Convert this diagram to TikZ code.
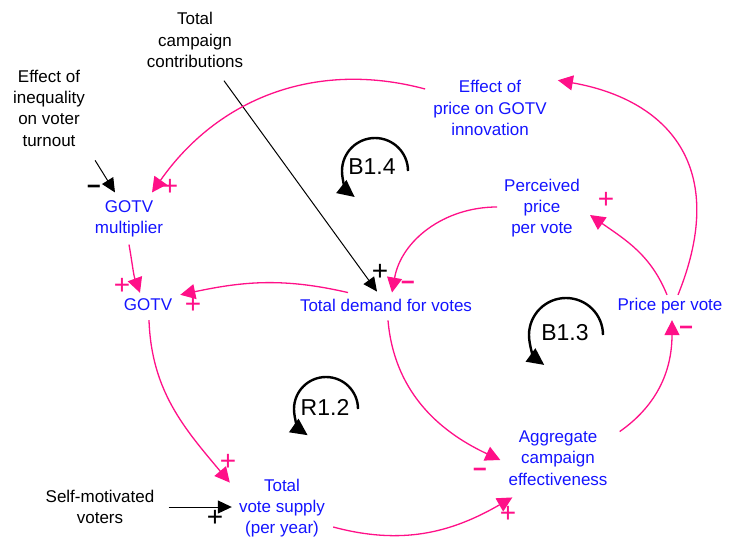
\documentclass[tikz,border=0pt]{standalone}
\usepackage{fontspec}
\setmainfont{Liberation Sans}
\usetikzlibrary{arrows.meta}
\definecolor{varblue}{RGB}{20,20,255}
\definecolor{linkpink}{RGB}{255,16,136}

\begin{document}
\begin{tikzpicture}[x=1pt,y=1pt,
    var/.style={text=varblue, align=center, inner sep=2pt, font=\fontsize{17}{21.3}\selectfont},
    ext/.style={text=black, align=center, inner sep=2pt, font=\fontsize{17}{21.3}\selectfont},
    link/.style={draw=linkpink, line width=1.3pt, -{Triangle[length=15pt,width=15pt]}},
    inlink/.style={draw=black, line width=1pt, -{Triangle[length=14pt,width=13pt]}},
    plus/.style={font=\fontsize{28}{28}\selectfont, inner sep=0pt},
    minus/.style={font=\fontsize{24}{24}\selectfont\bfseries, inner sep=0pt, yshift=-3pt},
    loopsym/.style={draw=black, line width=2.4pt, -{Triangle[length=17pt,width=16pt]}},
    looplbl/.style={font=\fontsize{23}{23}\selectfont, inner sep=0pt}]
    \useasboundingbox (0,0) rectangle (738,-538);

    % outside inputs
    \node[ext] (contrib) at (195,-40) {Total\\campaign\\contributions};
    \node[ext] (ineq) at (49,-108) {Effect of\\inequality\\on voter\\turnout};
    \node[ext] (self) at (100,-507) {Self-motivated\\voters};

    % variables
    \node[var] (effprice) at (490,-108) {Effect of\\price on GOTV\\innovation};
    \node[var] (mult) at (129,-219) {GOTV\\multiplier};
    \node[var] (perceived) at (542,-208) {Perceived\\price\\per vote};
    \node[var] (gotv) at (148,-305) {GOTV};
    \node[var] (demand) at (386,-305) {Total demand for votes};
    \node[var] (ppv) at (670,-306) {Price per vote};
    \node[var] (aggr) at (558,-458) {Aggregate\\campaign\\effectiveness};
    \node[var] (supply) at (282,-508) {Total\\vote supply\\(per year)};

    % loop markers
    \node[looplbl] (b14) at (372,-167) {B1.4};
    \node[looplbl] (b13) at (565,-333) {B1.3};
    \node[looplbl] (r12) at (325,-407) {R1.2};
    \draw[loopsym] ([shift={(36,-4)}]b14.center) arc[start angle=0, end angle=232, radius=33];
    \draw[loopsym] ([shift={(38,-2)}]b13.center) arc[start angle=0, end angle=234, radius=37];
    \draw[loopsym] ([shift={(33,-2)}]r12.center) arc[start angle=0, end angle=235, radius=32];

    % black links from outside
    \draw[inlink] ([shift={(29,-11)}]contrib.south) -- ([shift={(-9,5)}]demand.north);
    \draw[inlink] ([shift={(8,-12)}]ineq.south east) -- ([shift={(-14,6)}]mult.north);
    \draw[inlink] ([xshift=12pt]self.east) -- ([shift={(-5,1)}]supply.west);

    % pink causal links
    \draw[link] ([shift={(-6,19)}]effprice.west) to[out=165, in=55] ([shift={(23,6)}]mult.north);
    \draw[link] ([shift={(8,1)}]ppv.north) .. controls +(68:140) and +(-10:110) .. ([shift={(9,-2)}]effprice.north east);
    \draw[link] ([shift={(-3,1)}]ppv.north) to[out=112, in=-35] ([shift={(8,-7)}]perceived.east);
    \draw[link] ([shift={(-5,1)}]perceived.west) to[out=180, in=80] ([shift={(6,4)}]demand.north);
    \draw[link] ([yshift=-5pt]mult.south) to[out=-80, in=110] ([shift={(-8,4)}]gotv.north);
    \draw[link] ([shift={(-38,4)}]demand.north) to[out=167, in=12] ([shift={(6,2)}]gotv.north east);
    \draw[link] ([shift={(1,-7)}]gotv.south) to[out=-88, in=130] ([shift={(-7,-6)}]supply.north west);
    \draw[link] ([shift={(6,-19)}]supply.east) to[out=-15, in=-150] ([shift={(6,-10)}]aggr.south west);
    \draw[link] ([shift={(2,-7)}]demand.south) to[out=-85, in=155] ([shift={(-6,-2)}]aggr.west);
    \draw[link] ([shift={(10,-3)}]aggr.north east) to[out=35, in=-90] ([shift={(2,-4)}]ppv.south);

    % polarities
    \node[plus, text=linkpink] (p1) at (170,-187) {+};
    \node[plus, text=linkpink] (p3) at (606,-200) {+};
    \node[minus, text=linkpink] (p4) at (408,-283) {−};
    \node[plus] (p5) at (380,-272) {+};
    \node[minus] (p6) at (94,-187) {−};
    \node[plus, text=linkpink] (p7) at (122,-286) {+};
    \node[plus, text=linkpink] (p8) at (193,-305) {+};
    \node[plus, text=linkpink] (p9) at (228,-462) {+};
    \node[plus] (p10) at (215,-518) {+};
    \node[plus, text=linkpink] (p11) at (508,-514) {+};
    \node[minus, text=linkpink] (p12) at (480,-470) {−};
    \node[minus, text=linkpink] (p13) at (686,-328) {−};
\end{tikzpicture}
\end{document}
